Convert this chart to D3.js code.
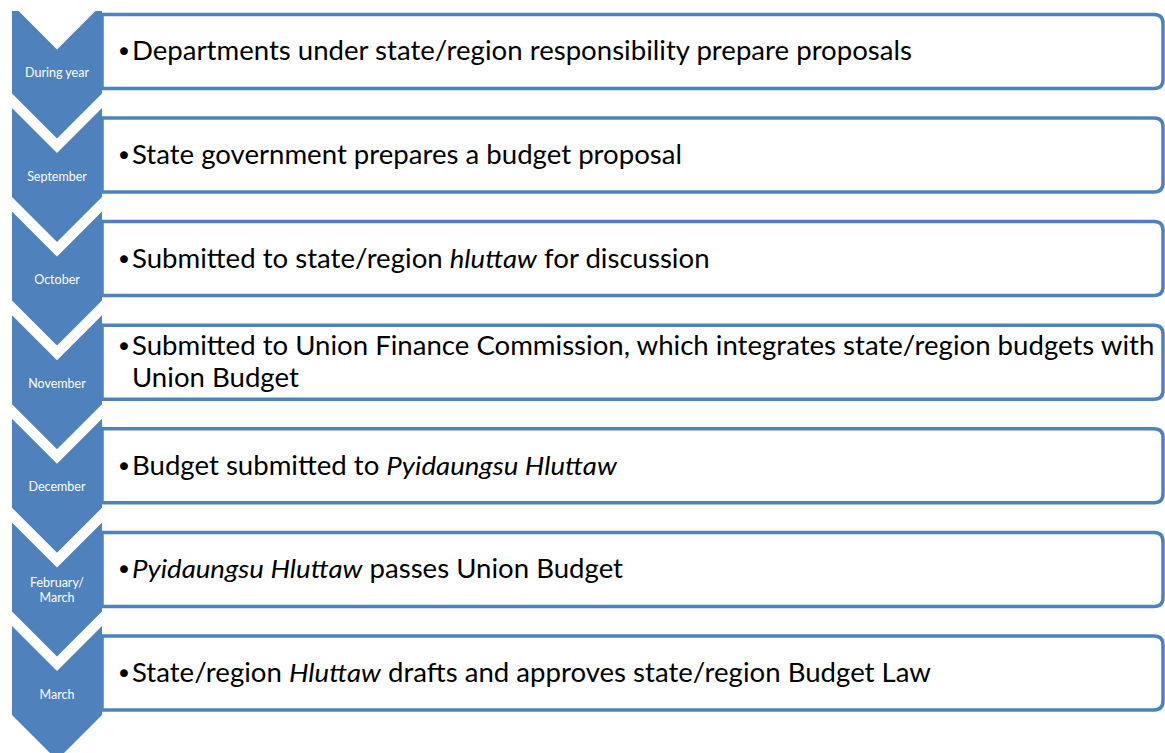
<!DOCTYPE html>
<html>
<head>
<meta charset="utf-8">
<script src="https://cdn.jsdelivr.net/npm/d3@7"></script>
<style>
  html, body { margin: 0; padding: 0; background: #fff; }
  svg { display: block; }
</style>
</head>
<body>
<svg id="chart" width="1165" height="753"></svg>
<script>
// ---- data ----
const periods = ["During year", "September", "October", "November", "December", "February/\nMarch", "March"];
// *...* marks italic segments, \n marks line breaks
const steps = [
  "Departments under state/region responsibility prepare proposals",
  "State government prepares a budget proposal",
  "Submitted to state/region *hluttaw* for discussion",
  "Submitted to Union Finance Commission, which integrates state/region budgets with\nUnion Budget",
  "Budget submitted to *Pyidaungsu Hluttaw*",
  "*Pyidaungsu Hluttaw* passes Union Budget",
  "State/region *Hluttaw* drafts and approves state/region Budget Law"
];

// ---- layout ----
const W = 1165, H = 753;
const blue = "#4F81BD";
const font = "Lato, 'Open Sans', sans-serif";
const svg = d3.select("#chart");

const y = d3.scaleLinear().domain([0, periods.length - 1]).range([4.4, 626]);
const chevX = d3.scaleLinear().domain([0, 1]).range([12, 102]);
const notch = 45, chevH = 89;

svg.append("defs").append("clipPath").attr("id", "clip")
  .append("rect").attr("x", 0).attr("y", 11).attr("width", W).attr("height", H - 11);

const g = svg.append("g").attr("clip-path", "url(#clip)");

const rows = g.selectAll("g.row").data(periods.map((p, i) => ({ p, s: steps[i], i })))
  .join("g").attr("class", "row");

// chevrons
rows.append("path")
  .attr("fill", blue)
  .attr("d", d => {
    const t = y(d.i), l = chevX(0), r = chevX(1), c = chevX(0.5);
    return d3.line()([[l, t], [c, t + notch], [r, t], [r, t + chevH], [c, t + chevH + notch], [l, t + chevH]]) + "Z";
  });

// chevron labels
rows.each(function(d) {
  const lines = d.p.split("\n");
  const t = d3.select(this).append("text")
    .attr("text-anchor", "middle")
    .attr("fill", "#fff")
    .style("font-family", font)
    .style("font-size", "12.5px");
  const cy = y(d.i) + 68;
  lines.forEach((ln, k) => {
    t.append("tspan").attr("x", chevX(0.5))
      .attr("y", cy + 4.5 + (k - (lines.length - 1) / 2) * 15)
      .text(ln);
  });
});

// boxes (square left, rounded right)
const bx0 = 102, bx1 = 1163, rr = 9;
rows.append("path")
  .attr("fill", "#fff")
  .attr("stroke", blue)
  .attr("stroke-width", 3.5)
  .attr("d", d => {
    const t = y(d.i) + 10, b = y(d.i) + 84;
    return `M${bx0},${t} H${bx1 - rr} Q${bx1},${t} ${bx1},${t + rr} V${b - rr} Q${bx1},${b} ${bx1 - rr},${b} H${bx0} Z`;
  });

// box texts
const fontSize = 26, lineH = 32, tx = 132;
const textG = rows.append("g").attr("class", "txt");
textG.each(function(d) {
  const gg = d3.select(this);
  const lines = d.s.split("\n");
  const cy = y(d.i) + 47;
  lines.forEach((ln, k) => {
    const by = cy + 9 + (k - (lines.length - 1) / 2) * lineH;
    if (k === 0) {
      gg.append("text").attr("class", "bullet").attr("x", 116).attr("y", by + 1)
        .style("font-family", "'DejaVu Sans', sans-serif")
        .style("font-size", "27px").attr("fill", "#000").text("\u2022");
    }
    const t = gg.append("text").attr("class", "line").attr("x", tx).attr("y", by)
      .style("font-family", font)
      .style("font-size", fontSize + "px").attr("fill", "#000");
    ln.split("*").forEach((seg, j) => {
      if (!seg) return;
      t.append("tspan").style("font-style", j % 2 ? "italic" : "normal").text(seg);
    });
  });
});

// horizontally adjust text to match the reference's face width
const ref = textG.filter(d => d.i === 3).select("text.line").node();
const natural = ref.getComputedTextLength();
const sx = (1155 - tx) / natural;
textG.selectAll("text.line").attr("transform", `translate(${tx * (1 - sx)},0) scale(${sx},1)`);
</script>
</body>
</html>
